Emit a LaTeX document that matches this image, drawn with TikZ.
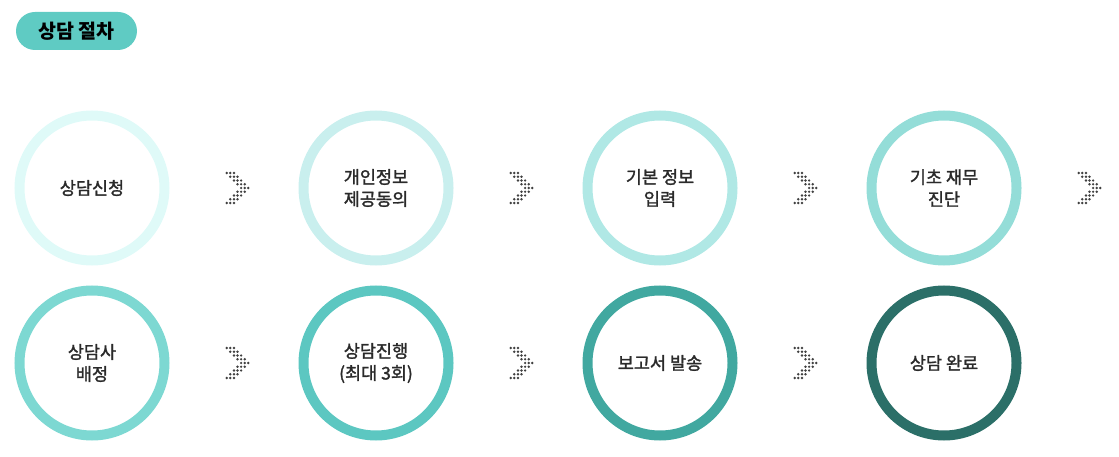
\documentclass[tikz,border=0pt]{standalone}
\usepackage{fontspec}
\newfontfamily\kr[FakeBold=1.6]{Noto Sans CJK KR}
\newfontfamily\krb{Noto Sans CJK KR}
\usetikzlibrary{positioning}

\definecolor{txtgray}{HTML}{2A2A2A}
\definecolor{dotgray}{HTML}{404040}
\definecolor{badge}{HTML}{5FCBC3}
\definecolor{ringA}{HTML}{DFFAF8}
\definecolor{ringB}{HTML}{C9EFEE}
\definecolor{ringC}{HTML}{B0E8E5}
\definecolor{ringD}{HTML}{94DDD8}
\definecolor{ringE}{HTML}{7DD8D2}
\definecolor{ringF}{HTML}{5CC7C1}
\definecolor{ringG}{HTML}{41A8A0}
\definecolor{ringH}{HTML}{2B6F68}

\tikzset{
  ring/.style={circle, draw=#1, line width=10pt, minimum size=145pt, inner sep=0pt,
    align=center, text=txtgray, font=\kr\fontsize{17.5}{22}\selectfont},
  title/.style={rounded corners=19pt, fill=badge, minimum width=121pt, minimum height=38pt,
    inner sep=0pt, font=\krb\bfseries\fontsize{19.5}{22}\selectfont}
}

% dotted chevron centred on a coordinate
\newcommand{\chevron}[1]{%
  \foreach \r in {-4,...,4}
    \foreach \c in {0,1,2} {
      \pgfmathsetmacro{\dx}{(4-abs(\r)+\c-3)*3.6}
      \pgfmathsetmacro{\dy}{\r*3.75}
      \fill [dotgray] ([shift={(\dx,\dy)}]#1) circle (1.35pt);
    }%
}

\begin{document}
\begin{tikzpicture}[x=1pt,y=1pt,yscale=-1,xscale=1]
\useasboundingbox (0,0) rectangle (1119,457);

% Title
\node [title] (ttl) at (76.5,31) {상담 절차};

% First row
\node [ring=ringA] (s1) at (92,188) {상담신청};
\node [ring=ringB] (s2) at (376,188) {개인정보\\제공동의};
\node [ring=ringC] (s3) at (660,188) {기본 정보\\입력};
\node [ring=ringD] (s4) at (944,188) {기초 재무\\진단};

% Second row
\node [ring=ringE] (s5) at (92,363) {상담사\\배정};
\node [ring=ringF] (s6) at (376,363) {상담진행\\(최대 3회)};
\node [ring=ringG] (s7) at (660,363) {보고서 발송};
\node [ring=ringH] (s8) at (944,363) {상담 완료};

% Chevrons between steps
\coordinate (a1) at ([xshift=145.5pt]s1.center);
\coordinate (a2) at ([xshift=145.5pt]s2.center);
\coordinate (a3) at ([xshift=145.5pt]s3.center);
\coordinate (a4) at ([xshift=145.5pt]s4.center);
\coordinate (a5) at ([xshift=145.5pt]s5.center);
\coordinate (a6) at ([xshift=145.5pt]s6.center);
\coordinate (a7) at ([xshift=145.5pt]s7.center);
\foreach \a in {a1,a2,a3,a4,a5,a6,a7} {\chevron{\a}}

\end{tikzpicture}
\end{document}
